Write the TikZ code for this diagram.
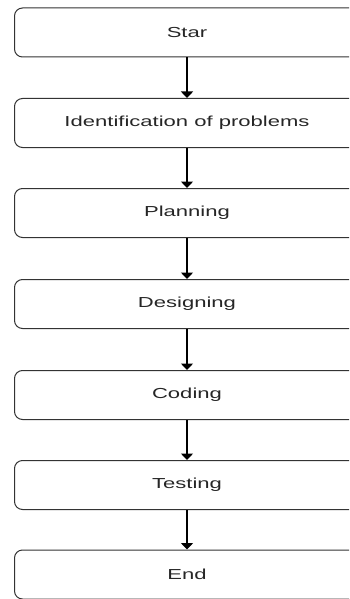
\documentclass[tikz,border=0pt]{standalone}
\usepackage{fontspec}
\setmainfont{Liberation Sans}
\usetikzlibrary{arrows.meta}
\tikzset{
  stepbox/.style={draw=black!80, line width=1pt, rounded corners=8pt,
    minimum width=345pt, minimum height=49pt, inner sep=0pt,
    font=\fontsize{14.5}{17}\selectfont, text=black!85},
  arr/.style={draw=black, line width=1.5pt,
    -{Triangle[width=12pt,length=6.5pt]}, shorten >=0pt}
}
\newcommand{\wtxt}[1]{\scalebox{1.52}[1]{#1}}
\begin{document}
\begin{tikzpicture}[x=1pt,y=-1pt]
\useasboundingbox (0,0) rectangle (349,599);
\clip (0,0) rectangle (349,599);
\node[stepbox] (s) at (187,32.5) {\wtxt{Star}};
\node[stepbox] (i) at (187,123) {\wtxt{Identification of problems}};
\node[stepbox] (p) at (187,213) {\wtxt{Planning}};
\node[stepbox] (d) at (187,304) {\wtxt{Designing}};
\node[stepbox] (c) at (187,395) {\wtxt{Coding}};
\node[stepbox] (t) at (187,485) {\wtxt{Testing}};
\node[stepbox] (e) at (187,574.5) {\wtxt{End}};
\draw[arr] (s.south) -- (i.north);
\draw[arr] (i.south) -- (p.north);
\draw[arr] (p.south) -- (d.north);
\draw[arr] (d.south) -- (c.north);
\draw[arr] (c.south) -- (t.north);
\draw[arr] (t.south) -- (e.north);
\end{tikzpicture}
\end{document}
